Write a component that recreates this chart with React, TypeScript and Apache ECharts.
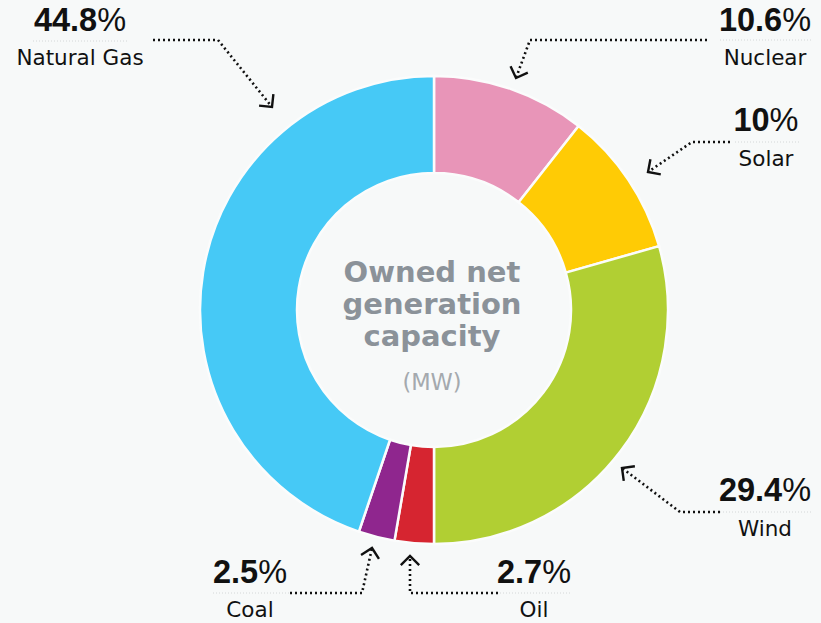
import React, { useEffect, useRef } from "react";
import * as echarts from "echarts";

const names = ["Nuclear", "Solar", "Wind", "Oil", "Coal", "Natural Gas"];
const values = [10.6, 10, 29.4, 2.7, 2.5, 44.8];
const colors = ["#e895b8", "#ffcb05", "#b1cf33", "#d62530", "#8f268e", "#46c9f6"];
const centerLines = ["Owned net", "generation", "capacity"];
const centerUnit = "(MW)";

// annotation layout: label centre x, number y, name y, separator span, arrow path
const labelLayout = [
  { x: 765, ny: 19.5, my: 57, sep: [720, 812, 40], arrow: [[707, 40], [530, 40], [516, 78]] },
  { x: 766, ny: 120, my: 158.5, sep: [735, 800, 142], arrow: [[730, 142], [692, 142], [648, 172]] },
  { x: 765, ny: 490, my: 528, sep: [720, 813, 512], arrow: [[720, 512], [680, 512], [622, 468]] },
  { x: 534, ny: 571.5, my: 609.5, sep: [500, 572, 593], arrow: [[498, 593], [410, 593], [410, 556]] },
  { x: 250, ny: 571.5, my: 609.5, sep: [213, 290, 593], arrow: [[290, 593], [362, 593], [372, 548]] },
  { x: 80, ny: 19.5, my: 57.5, sep: [33, 128, 41], arrow: [[153, 40], [218, 40], [272, 107]] },
];

const BG = "#f7f9f9";
const NUMFONT = "'Liberation Sans', Arial, Helvetica, sans-serif";
const FONT = "'DejaVu Sans', Verdana, sans-serif";

function arrowHead(pts: number[][]) {
  const a = pts[pts.length - 2];
  const b = pts[pts.length - 1];
  const dx = a[0] - b[0];
  const dy = a[1] - b[1];
  const L = Math.hypot(dx, dy);
  const ux = dx / L;
  const uy = dy / L;
  const len = 13;
  const rot = (ang: number) => [
    b[0] + len * (ux * Math.cos(ang) - uy * Math.sin(ang)),
    b[1] + len * (ux * Math.sin(ang) + uy * Math.cos(ang)),
  ];
  return [rot(Math.PI / 4), b, rot(-Math.PI / 4)];
}

export default function App() {
  const ref = useRef<HTMLDivElement>(null);
  useEffect(() => {
    if (!ref.current) return;
    const chart = echarts.init(ref.current, undefined, { renderer: "svg" });
    const graphics: any[] = [];
    labelLayout.forEach((l, i) => {
      graphics.push({
        type: "polyline",
        shape: { points: [[l.sep[0], l.sep[2]], [l.sep[1], l.sep[2]]] },
        style: { stroke: "#d4d7d8", lineWidth: 1, lineDash: [1, 2], fill: null },
        silent: true,
      });
      graphics.push({
        type: "polyline",
        shape: { points: l.arrow },
        style: { stroke: "#111", lineWidth: 2.6, lineDash: [2, 3], fill: null },
        silent: true,
      });
      graphics.push({
        type: "polyline",
        shape: { points: arrowHead(l.arrow) },
        style: { stroke: "#111", lineWidth: 2.4, fill: null },
        silent: true,
      });
      graphics.push({
        type: "text",
        x: l.x,
        y: l.ny,
        style: {
          text: `{b|${values[i]}}{p|%}`,
          align: "center",
          verticalAlign: "middle",
          rich: {
            b: { fontFamily: NUMFONT, fontSize: 32.5, fontWeight: "bold", fill: "#111" },
            p: { fontFamily: NUMFONT, fontSize: 32.5, fontWeight: "normal", fill: "#111" },
          },
        },
        silent: true,
      });
      graphics.push({
        type: "text",
        x: l.x,
        y: l.my,
        style: {
          text: names[i],
          align: "center",
          verticalAlign: "middle",
          fontFamily: FONT,
          fontSize: 21.5,
          fill: "#111",
        },
        silent: true,
      });
    });
    centerLines.forEach((t, i) => {
      graphics.push({
        type: "text",
        x: 432,
        y: 272 + i * 32,
        style: {
          text: t,
          align: "center",
          verticalAlign: "middle",
          fontFamily: FONT,
          fontSize: 29,
          fontWeight: "bold",
          fill: "#8b9299",
        },
        silent: true,
      });
    });
    graphics.push({
      type: "text",
      x: 432,
      y: 382,
      style: {
        text: centerUnit,
        align: "center",
        verticalAlign: "middle",
        fontFamily: FONT,
        fontSize: 22.5,
        fill: "#a4a9ae",
      },
      silent: true,
    });

    chart.setOption({
      animation: false,
      backgroundColor: BG,
      series: [
        {
          type: "pie",
          center: [434, 310],
          radius: [137, 234],
          startAngle: 90,
          clockwise: true,
          label: { show: false },
          labelLine: { show: false },
          silent: true,
          itemStyle: { borderColor: "#fbfcfc", borderWidth: 2.5 },
          data: names.map((n, i) => ({ name: n, value: values[i], itemStyle: { color: colors[i] } })),
        },
      ],
      graphic: graphics,
    });
    return () => chart.dispose();
  }, []);
  return (
    <div
      ref={ref}
      style={{ position: "fixed", left: 0, top: 0, width: 821, height: 623 }}
    />
  );
}
